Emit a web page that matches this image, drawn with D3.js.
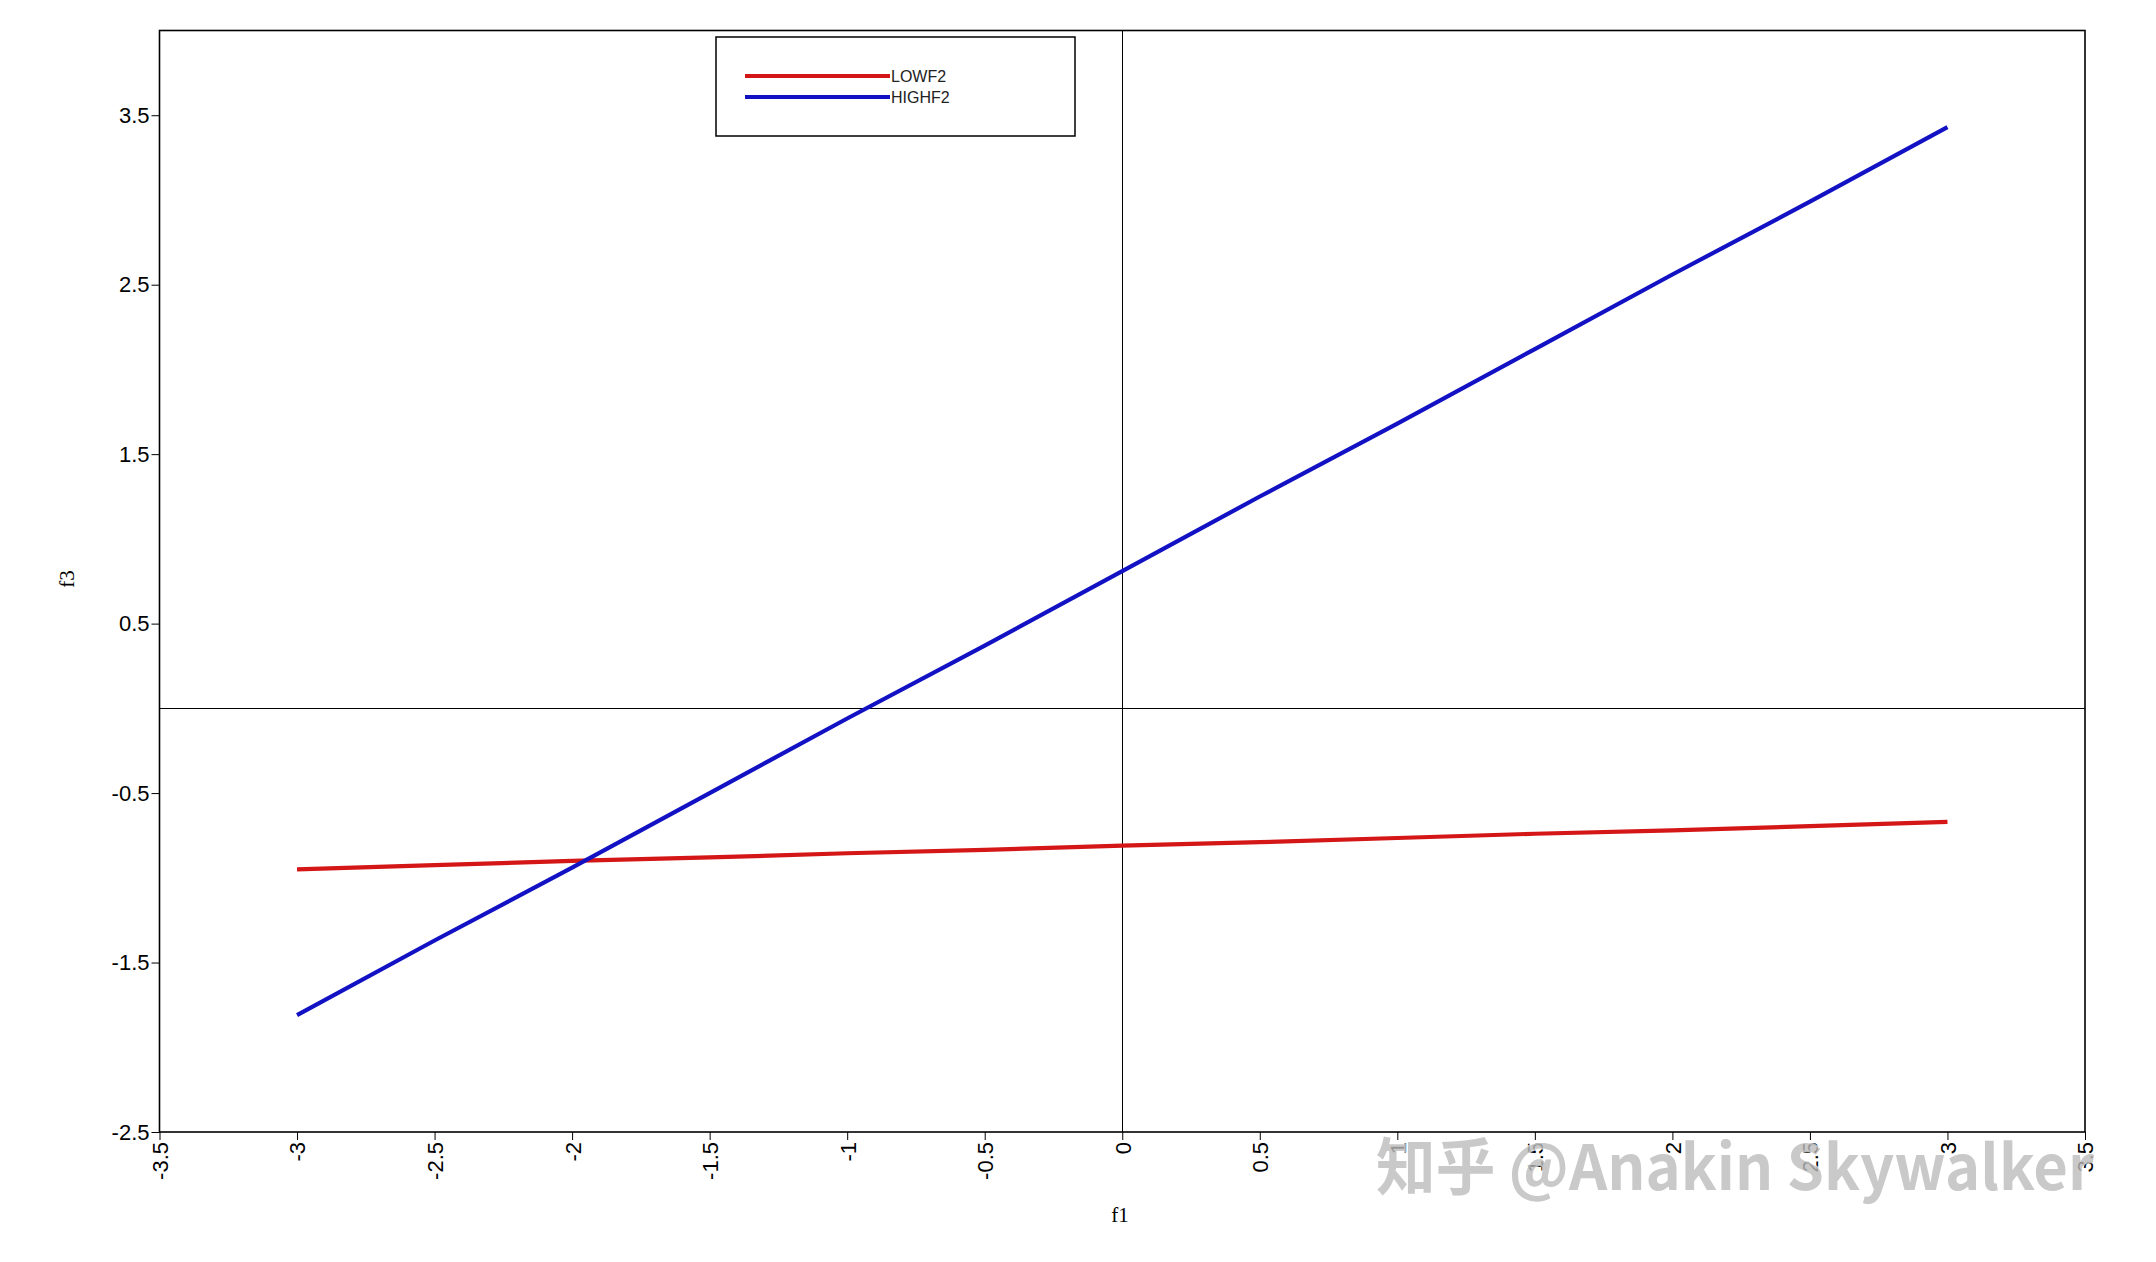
<!DOCTYPE html>
<html>
<head>
<meta charset="utf-8">
<script src="https://cdn.jsdelivr.net/npm/d3@7"></script>
<style>
  body { margin: 0; background: #fff; }
  svg { display: block; }
  .tick text { font-family: Arial, 'Liberation Sans', sans-serif; font-size: 22px; fill: #000; }
  .tick line { stroke: #000; }
</style>
</head>
<body>
<svg id="chart" width="2156" height="1262"></svg>
<script>
// f1 values the lines were evaluated at
const f1Values = [-3, -2.5, -2, -1.5, -1, -0.5, 0, 0.5, 1, 1.5, 2, 2.5, 3]
// f3
const lowF2 = [-0.95, -0.925, -0.90, -0.88, -0.855, -0.835, -0.81, -0.79, -0.765, -0.74, -0.72, -0.695, -0.67]
const highF2 = [-1.81, -1.37, -0.94, -0.50, -0.06, 0.37, 0.81, 1.25, 1.68, 2.12, 2.56, 2.99, 3.43]
const seriesNames = ['LOWF2', 'HIGHF2']
const seriesColors = ['#d41616', '#1212c4']
const xTicks = [-3.5, -3, -2.5, -2, -1.5, -1, -0.5, 0, 0.5, 1, 1.5, 2, 2.5, 3, 3.5]
const yTicks = [3.5, 2.5, 1.5, 0.5, -0.5, -1.5, -2.5]

const svg = d3.select('#chart')

const plotLeft = 159.5, plotRight = 2085, plotTop = 30.5, plotBottom = 1132

const xScale = d3.scaleLinear().domain([-3.5, 3.5]).range([plotLeft, plotRight])
const yScale = d3.scaleLinear().domain([-2.5, 4]).range([plotBottom, plotTop])

// zero reference lines, snapped to the pixel grid so they stay crisp
const x0 = Math.round(xScale(0)) + 0.5
const y0 = Math.round(yScale(0)) + 0.5
svg.append('line')
    .attr('x1', x0).attr('x2', x0)
    .attr('y1', plotTop).attr('y2', plotBottom)
    .attr('stroke', '#000').attr('stroke-width', 1)
    .attr('shape-rendering', 'crispEdges')
svg.append('line')
    .attr('x1', plotLeft).attr('x2', plotRight)
    .attr('y1', y0).attr('y2', y0)
    .attr('stroke', '#000').attr('stroke-width', 1)
    .attr('shape-rendering', 'crispEdges')

// axes
const yAxis = svg.append('g')
    .attr('transform', `translate(${plotLeft},0)`)
    .call(d3.axisLeft(yScale).tickValues(yTicks).tickSize(8).tickSizeOuter(0).tickPadding(2)
        .tickFormat(d => String(d)))
yAxis.select('.domain').remove()

const xAxis = svg.append('g')
    .attr('transform', `translate(0,${plotBottom})`)
    .call(d3.axisBottom(xScale).tickValues(xTicks).tickSize(8).tickSizeOuter(0)
        .tickFormat(d => String(d)))
xAxis.select('.domain').remove()
xAxis.selectAll('.tick text')
    .attr('transform', 'rotate(-90)')
    .attr('text-anchor', 'end')
    .attr('x', -10)
    .attr('y', 0)
    .attr('dy', '0.36em')

// plot frame
svg.append('rect')
    .attr('x', plotLeft).attr('y', plotTop)
    .attr('width', plotRight - plotLeft).attr('height', plotBottom - plotTop)
    .attr('fill', 'none').attr('stroke', '#000').attr('stroke-width', 1.6)

// series lines
const line = d3.line()
    .x((d, i) => xScale(f1Values[i]))
    .y(d => yScale(d))

;[lowF2, highF2].forEach((vals, i) => {
    svg.append('path')
        .datum(vals)
        .attr('d', line)
        .attr('fill', 'none')
        .attr('stroke', seriesColors[i])
        .attr('stroke-width', 4.2)
})

// axis titles
svg.append('text')
    .attr('x', 1120).attr('y', 1222)
    .attr('text-anchor', 'middle')
    .style('font-family', "'Times New Roman', 'Liberation Serif', serif")
    .style('font-size', '21px')
    .text('f1')

svg.append('text')
    .attr('transform', 'translate(74,579) rotate(-90)')
    .attr('text-anchor', 'middle')
    .style('font-family', "'Times New Roman', 'Liberation Serif', serif")
    .style('font-size', '21px')
    .text('f3')

// legend
svg.append('rect')
    .attr('x', 716).attr('y', 37)
    .attr('width', 359).attr('height', 99)
    .attr('fill', '#fff').attr('stroke', '#000').attr('stroke-width', 1.5)

const legend = svg.selectAll('.legend-item')
    .data(seriesNames)
    .enter()
    .append('g')
    .attr('class', 'legend-item')
    .attr('transform', (d, i) => `translate(0, ${76 + i * 21})`)

legend.append('line')
    .attr('x1', 745).attr('x2', 890)
    .attr('y1', 0).attr('y2', 0)
    .attr('stroke', (d, i) => seriesColors[i])
    .attr('stroke-width', 4)

legend.append('text')
    .attr('x', 891).attr('y', 6)
    .style('font-family', "Arial, 'Liberation Sans', sans-serif")
    .style('font-size', '16px')
    .attr('fill', '#222')
    .text(d => d)

// watermark
svg.append('text')
    .attr('x', 1376).attr('y', 1190)
    .attr('textLength', 718)
    .attr('lengthAdjust', 'spacingAndGlyphs')
    .style('font-family', "'Noto Sans CJK SC', Arial, 'Liberation Sans', sans-serif")
    .style('font-size', '62px')
    .style('font-weight', 'bold')
    .attr('fill', '#bcbcbc')
    .attr('fill-opacity', 0.8)
    .attr('stroke', '#fff')
    .attr('stroke-opacity', 0.7)
    .attr('stroke-width', 2)
    .attr('paint-order', 'stroke')
    .text('知乎 @Anakin Skywalker')
</script>
</body>
</html>
